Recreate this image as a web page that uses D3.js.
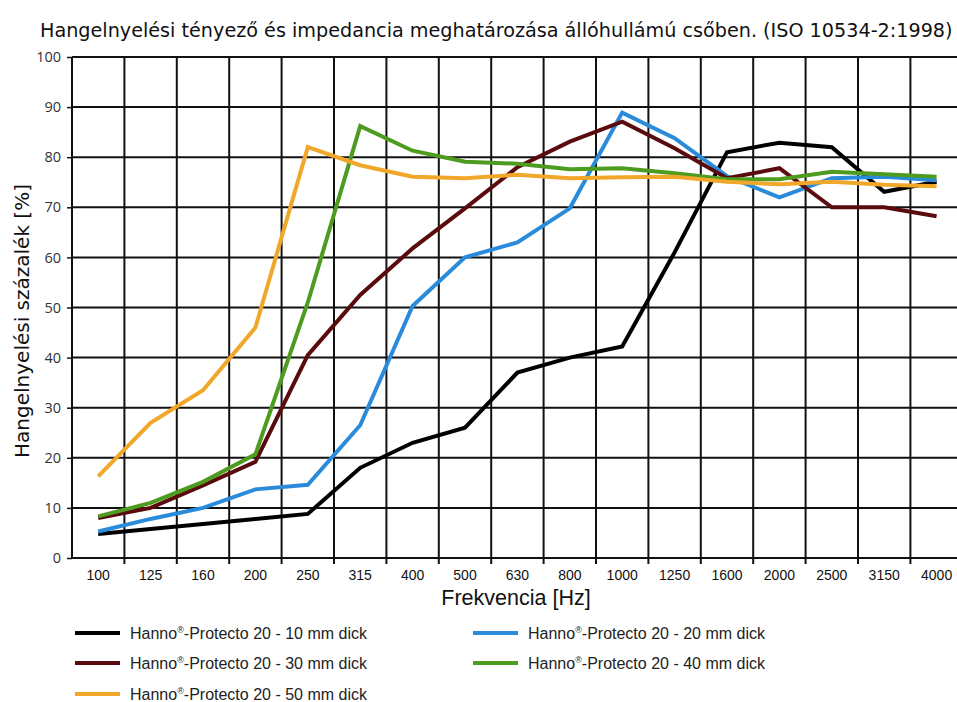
<!DOCTYPE html>
<html>
<head>
<meta charset="utf-8">
<script src="https://cdn.jsdelivr.net/npm/d3@7"></script>
<style>
  html, body { margin: 0; padding: 0; background: #fff; }
  svg { display: block; }
</style>
</head>
<body>
<svg id="chart" width="957" height="702"></svg>
<script>
const categories = ["100","125","160","200","250","315","400","500","630","800","1000","1250","1600","2000","2500","3150","4000"];
const yTicks = [0,10,20,30,40,50,60,70,80,90,100];

const series10 = [4.8, 5.8, 6.8, 7.8, 8.8, 18, 23, 26, 37, 40, 42.2, 61, 81, 82.9, 82, 73.1, 75.1];
const series20 = [5.3, 7.8, 10, 13.7, 14.6, 26.5, 50.3, 60, 63, 69.8, 88.9, 83.8, 76.2, 72, 75.8, 76.1, 75.4];
const series30 = [8, 10, 14.5, 19.2, 40.5, 52.5, 61.8, 69.8, 78, 83.1, 87.1, 81.8, 75.8, 77.8, 70, 70, 68.2];
const series40 = [8.3, 11, 15.2, 20.7, 51, 86.2, 81.3, 79.1, 78.7, 77.6, 77.8, 76.8, 75.6, 75.6, 77.1, 76.6, 76.1];
const series50 = [16.3, 27, 33.5, 46, 82, 78.4, 76.1, 75.8, 76.5, 75.8, 76, 76.1, 75.1, 74.6, 75.1, 74.5, 74.2];

const seriesNames = ["10 mm dick","20 mm dick","30 mm dick","40 mm dick","50 mm dick"];
const seriesColors = ["#000000","#2b8bdb","#5a0b0d","#4d9b1f","#f1a72a"];
const allSeries = [series10, series20, series30, series40, series50];

const svg = d3.select("#chart");
const mLeft = 72, mTop = 57, mBottom = 558, band = 52.4;
const x = d3.scaleBand().domain(categories).range([mLeft, mLeft + band * categories.length]).padding(0);
const y = d3.scaleLinear().domain([0, 100]).range([mBottom, mTop]);
const rightEdge = 957;

// Title
svg.append("text")
  .attr("x", 40).attr("y", 37)
  .attr("font-family", "DejaVu Sans, Verdana, sans-serif")
  .attr("font-size", 19.2)
  .attr("fill", "#111")
  .text("Hangelnyelési tényező és impedancia meghatározása állóhullámú csőben. (ISO 10534-2:1998)");

// Grid
const grid = svg.append("g");
grid.selectAll("line.h").data(yTicks.slice(1)).join("line")
  .attr("x1", mLeft).attr("x2", rightEdge)
  .attr("y1", d => y(d)).attr("y2", d => y(d))
  .attr("stroke", "#111").attr("stroke-width", 2);
grid.selectAll("line.v").data(categories.slice(1)).join("line")
  .attr("x1", d => x(d)).attr("x2", d => x(d))
  .attr("y1", mTop).attr("y2", mBottom + 6)
  .attr("stroke", "#111").attr("stroke-width", 2);

// Axes lines
svg.append("line").attr("x1", mLeft).attr("x2", mLeft).attr("y1", mTop).attr("y2", mBottom)
  .attr("stroke", "#111").attr("stroke-width", 2);
svg.append("line").attr("x1", mLeft - 1).attr("x2", rightEdge).attr("y1", mBottom).attr("y2", mBottom)
  .attr("stroke", "#111").attr("stroke-width", 2);

// Y axis ticks and labels
const yAxis = d3.axisLeft(y).tickValues(yTicks).tickSize(5).tickPadding(6);
const gy = svg.append("g").attr("transform", `translate(${mLeft},0)`).call(yAxis);
gy.select(".domain").remove();
gy.selectAll(".tick line").attr("stroke", "#111").attr("stroke-width", 1.5);
gy.selectAll(".tick text")
  .attr("font-family", "Open Sans, DejaVu Sans, sans-serif")
  .attr("font-size", 14.5)
  .attr("fill", "#333");

// X axis labels
const xAxis = d3.axisBottom(x).tickSize(0).tickPadding(12);
const gx = svg.append("g").attr("transform", `translate(0,${mBottom})`).call(xAxis);
gx.select(".domain").remove();
gx.selectAll(".tick text")
  .attr("font-family", "Liberation Sans, sans-serif")
  .attr("font-size", 14)
  .attr("fill", "#111");

// Axis titles
svg.append("text")
  .attr("x", 516).attr("y", 605)
  .attr("text-anchor", "middle")
  .attr("font-family", "Liberation Sans, sans-serif")
  .attr("font-size", 21.5)
  .attr("fill", "#111")
  .text("Frekvencia [Hz]");

svg.append("text")
  .attr("transform", "translate(29,321) rotate(-90)")
  .attr("text-anchor", "middle")
  .attr("font-family", "DejaVu Sans, Verdana, sans-serif")
  .attr("font-size", 20)
  .attr("fill", "#111")
  .text("Hangelnyelési százalék [%]");

// Lines
const line = d3.line()
  .x((d, i) => x(categories[i]) + x.bandwidth() / 2)
  .y(d => y(d));

const linesG = svg.append("g");
allSeries.forEach((s, i) => {
  linesG.append("path")
    .datum(s)
    .attr("d", line)
    .attr("fill", "none")
    .attr("stroke", seriesColors[i])
    .attr("stroke-width", 4)
    .attr("stroke-linejoin", "miter")
    .attr("stroke-linecap", "butt");
});

// Legend
const legendPos = [
  {x: 75, y: 633}, {x: 473, y: 633},
  {x: 75, y: 663}, {x: 473, y: 663},
  {x: 75, y: 694}
];
const legend = svg.append("g");
seriesNames.forEach((name, i) => {
  const p = legendPos[i];
  legend.append("line")
    .attr("x1", p.x).attr("x2", p.x + 45)
    .attr("y1", p.y).attr("y2", p.y)
    .attr("stroke", seriesColors[i]).attr("stroke-width", 4);
  const t = legend.append("text")
    .attr("x", p.x + 55).attr("y", p.y + 5.5)
    .attr("font-family", "Liberation Sans, sans-serif")
    .attr("font-size", 16)
    .attr("fill", "#222");
  t.append("tspan").text("Hanno");
  t.append("tspan").attr("font-size", 9).attr("dy", -6).text("®");
  t.append("tspan").attr("dy", 6).text("-Protecto 20 - " + name);
});
</script>
</body>
</html>
